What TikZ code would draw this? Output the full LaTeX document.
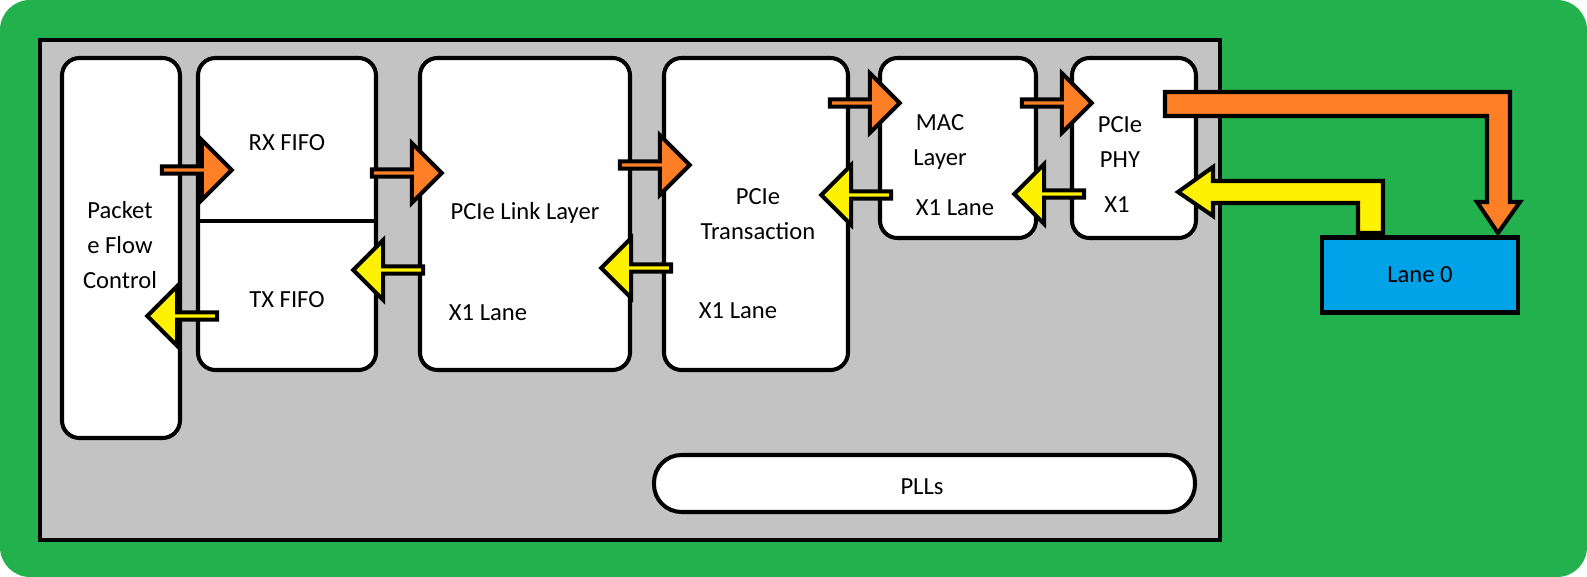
\documentclass[tikz,border=0pt]{standalone}
\usepackage{fontspec}
\setmainfont{Carlito}
\usetikzlibrary{shapes.arrows}
\definecolor{bggreen}{RGB}{34,177,76}
\definecolor{panelgray}{RGB}{195,195,195}
\definecolor{orng}{RGB}{255,127,39}
\definecolor{yllw}{RGB}{255,242,0}
\definecolor{laneblue}{RGB}{0,162,232}
\begin{document}
\begin{tikzpicture}[
  x=0.02cm, y=-0.02cm,
  every node/.style={font=\fontsize{14}{20}\selectfont, align=center},
  blk/.style={draw=black, line width=2.3pt, fill=white, rounded corners=0.35cm},
  tx/.style={single arrow, draw=black, line width=2.3pt, fill=orng, inner sep=0pt,
    minimum height=1.4cm, minimum width=1.2cm, single arrow head extend=0.3cm},
  rx/.style={tx, fill=yllw, shape border rotate=180},
  lanearr/.style={draw=black, line width=2.3pt}
]
\useasboundingbox (0,0) rectangle (1587,577);
\fill [bggreen, rounded corners=0.6cm] (0,0) rectangle (1587,577);
\draw [fill=panelgray, line width=2.3pt] (40,40) rectangle (1220,540);

% blocks
\draw [blk] (62,58) rectangle (180,438);
\node (pfc) at (120,245) {Packet\\e Flow\\Control};
\draw [blk] (198,58) rectangle (376,370);
\draw [line width=2.3pt] (198,221) -- (376,221);
\node (rxf) at (287,143) {RX FIFO};
\node (txf) at (287,300) {TX FIFO};
\draw [blk] (420,58) rectangle (630,370);
\node (lnk) at (525,213) {PCIe Link Layer};
\node (lnkx) at (488,313) {X1 Lane};
\draw [blk] (664,58) rectangle (848,370);
\node (trn) at (758,214) {PCIe\\Transaction};
\node (trnx) at (738,311) {X1 Lane};
\draw [blk] (880,58) rectangle (1036,238);
\node (mac) at (940,142) {MAC\\Layer};
\node (macx) at (955,208) {X1 Lane};
\draw [blk] (1072,58) rectangle (1196,238);
\node (phy) at (1120,142) {PCIe\\PHY};
\node (phyx) at (1117,205) {X1};
\draw [blk, rounded corners=0.55cm] (654,455) rectangle (1195,512);
\node (pll) at (922,487) {PLLs};
\node (lane) [draw=black, line width=2.3pt, fill=laneblue, minimum width=3.92cm,
  minimum height=1.5cm] at (1420,275) {Lane 0};

% transmit arrows
\node (t1) [tx] at (195,170) {};
\node (t2) [tx] at (405,173) {};
\node (t3) [tx] at (653,165) {};
\node (t4) [tx] at (863,103) {};
\node (t5) [tx] at (1055,103) {};
% receive arrows
\node (r1) [rx] at (184,316) {};
\node (r2) [rx] at (390,270) {};
\node (r3) [rx] at (638,268) {};
\node (r4) [rx] at (858,195) {};
\node (r5) [rx] at (1051,194) {};

% to and from the lane
\draw [lanearr, fill=orng] (1165,92) -- (1510,92) -- (1510,202) -- (1520,202) -- (1498,233)
  -- (1477,202) -- (1487,202) -- (1487,116) -- (1165,116) -- cycle;
\draw [lanearr, fill=yllw] (1358,233) -- (1383,233) -- (1383,181) -- (1213,181) -- (1213,167)
  -- (1178,192) -- (1213,216) -- (1213,203) -- (1358,203) -- cycle;
\end{tikzpicture}
\end{document}
